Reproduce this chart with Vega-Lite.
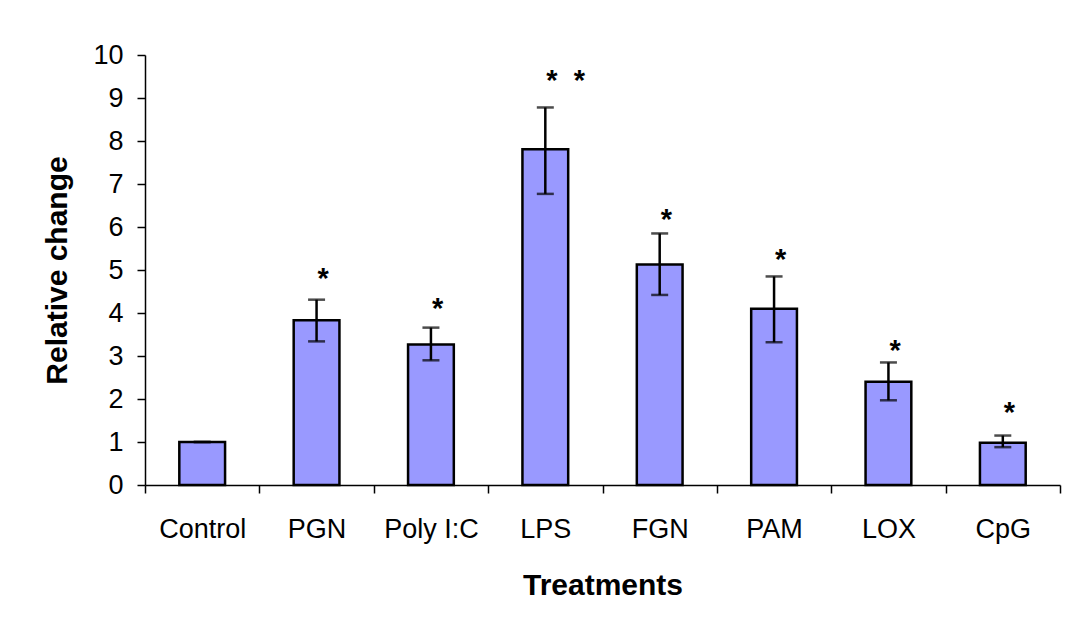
{
  "$schema": "https://vega.github.io/schema/vega-lite/v6.json",
  "autosize": "none",
  "width": 915,
  "height": 430,
  "padding": {"left": 145, "top": 55, "right": 16, "bottom": 148},
  "background": "white",
  "config": {
    "view": {"stroke": null},
    "font": "Liberation Sans",
    "axis": {
      "domainColor": "black",
      "tickColor": "black",
      "labelColor": "black",
      "titleColor": "black",
      "labelFont": "Liberation Sans",
      "titleFont": "Liberation Sans",
      "labelFontSize": 27,
      "titleFontSize": 30,
      "titleFontWeight": "bold",
      "tickSize": 8,
      "tickWidth": 1.5,
      "domainWidth": 1.5,
      "grid": false
    }
  },
  "data": {
    "values": [
      {"treatment": "Control", "value": 1.0, "lo": 1.0, "hi": 1.0, "star": "", "starY": 1.5},
      {"treatment": "PGN", "value": 3.83, "lo": 3.34, "hi": 4.31, "star": "*", "starY": 4.97},
      {"treatment": "Poly I:C", "value": 3.27, "lo": 2.9, "hi": 3.66, "star": "*", "starY": 4.28},
      {"treatment": "LPS", "value": 7.81, "lo": 6.77, "hi": 8.78, "star": "*\u00a0\u00a0*", "starY": 9.57},
      {"treatment": "FGN", "value": 5.13, "lo": 4.42, "hi": 5.85, "star": "*", "starY": 6.35},
      {"treatment": "PAM", "value": 4.1, "lo": 3.32, "hi": 4.85, "star": "*", "starY": 5.41},
      {"treatment": "LOX", "value": 2.4, "lo": 1.97, "hi": 2.85, "star": "*", "starY": 3.3},
      {"treatment": "CpG", "value": 0.98, "lo": 0.88, "hi": 1.15, "star": "*", "starY": 1.85}
    ]
  },
  "encoding": {
    "x": {
      "field": "treatment",
      "type": "nominal",
      "sort": null,
      "scale": {"paddingInner": 0, "paddingOuter": 0},
      "axis": {
        "title": "Treatments",
        "labelAngle": 0,
        "tickBand": "extent",
        "labelPadding": 23,
        "titlePadding": 28
      }
    }
  },
  "layer": [
    {
      "mark": {"type": "bar", "fill": "#9999FF", "stroke": "black", "strokeWidth": 2.5, "width": {"band": 0.4}},
      "encoding": {
        "y": {
          "field": "value",
          "type": "quantitative",
          "scale": {"domain": [0, 10], "nice": false},
          "axis": {
            "title": "Relative change",
            "values": [0, 1, 2, 3, 4, 5, 6, 7, 8, 9, 10],
            "labelPadding": 14,
            "titlePadding": 20
          }
        }
      }
    },
    {
      "mark": {"type": "rule", "stroke": "black", "strokeWidth": 2.5},
      "encoding": {
        "y": {"field": "lo", "type": "quantitative"},
        "y2": {"field": "hi"}
      }
    },
    {
      "mark": {"type": "tick", "color": "black", "size": 17, "thickness": 2.5, "orient": "horizontal"},
      "encoding": {"y": {"field": "lo", "type": "quantitative"}}
    },
    {
      "mark": {"type": "tick", "color": "black", "size": 17, "thickness": 2.5, "orient": "horizontal"},
      "encoding": {"y": {"field": "hi", "type": "quantitative"}}
    },
    {
      "mark": {"type": "text", "fontSize": 29, "fontWeight": "bold", "align": "left", "baseline": "alphabetic", "dx": 1, "dy": 17, "color": "black"},
      "encoding": {
        "y": {"field": "starY", "type": "quantitative"},
        "text": {"field": "star"}
      }
    }
  ]
}
